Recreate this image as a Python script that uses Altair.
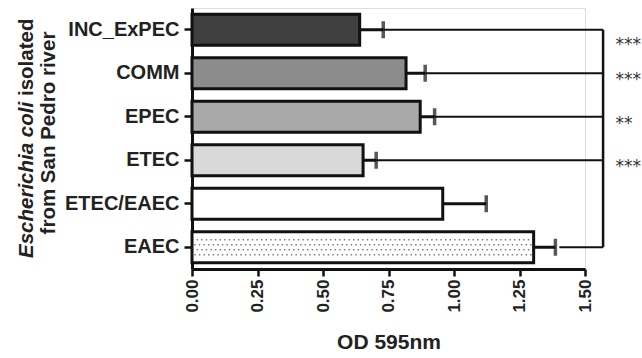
import altair as alt
import pandas as pd

categories = ["INC_ExPEC", "COMM", "EPEC", "ETEC", "ETEC/EAEC", "EAEC"]
means = [0.64, 0.817, 0.871, 0.653, 0.957, 1.304]
upper = [0.73, 0.89, 0.926, 0.703, 1.123, 1.387]
stars = ["***", "***", "**", "***", "", ""]
fills = ["#3f3f3f", "#8c8c8c", "#a9a9a9", "#d9d9d9", "#ffffff", "#ffffff"]
x_ticks = [0.0, 0.25, 0.5, 0.75, 1.0, 1.25, 1.5]
reference_group = "EAEC"
dotted_group = "EAEC"

BRACKET_X = 1.569
STAR_X = 1.616
FONT = "Liberation Sans"

df = pd.DataFrame({"cat": categories, "mean": means, "upper": upper, "star": stars})
df["conn_start"] = [u + (0.015 if c == reference_group else 0.0) for c, u in zip(categories, upper)]
df["bx"] = BRACKET_X
df["sx"] = STAR_X
df["zero"] = 0.0
df["first"] = [c == categories[0] for c in categories]

W, H = 393, 261

xscale = alt.Scale(domain=[0, 1.5], nice=False, zero=True)
yscale = alt.Scale(domain=categories, paddingInner=0.29, paddingOuter=0.145)

x_axis = alt.Axis(
    values=x_ticks, format=".2f", labelAngle=270, labelFont=FONT, labelFontSize=17,
    labelFontWeight="bold", labelColor="#222", tickSize=7, tickWidth=2.5, tickColor="#111",
    domainWidth=3, domainColor="#111", grid=False, title="OD 595nm", titleFont=FONT,
    titleFontSize=21, titleFontWeight="bold", titleColor="#222", titlePadding=19, labelPadding=3,
)
y_axis = alt.Axis(
    labelFont=FONT, labelFontSize=20, labelFontWeight="bold", labelColor="#222",
    tickSize=8, tickWidth=2.5, tickColor="#111", domainWidth=3, domainColor="#111",
    labelPadding=5, title=None, grid=False,
)

base = alt.Chart(df)
Y = alt.Y("cat:N", scale=yscale, sort=categories)

bars_fill = base.mark_bar(strokeWidth=0).encode(
    x=alt.X("mean:Q", scale=xscale, axis=x_axis),
    y=alt.Y("cat:N", scale=yscale, axis=y_axis, sort=categories),
    color=alt.Color("cat:N", scale=alt.Scale(domain=categories, range=fills), legend=None),
)

dot_layers = []
for i, off in enumerate([-7.5, -2.5, 2.5, 7.5]):
    dot_layers.append(
        base.transform_filter(alt.datum.cat == dotted_group).mark_rule(
            yOffset=off, strokeWidth=1.4, color="#777", strokeDash=[1.4, 3.2],
            strokeDashOffset=(0 if i % 2 == 0 else 2.3),
        ).encode(x=alt.X("zero:Q", scale=xscale), x2="mean:Q", y=Y)
    )

err_line = base.mark_rule(strokeWidth=3, color="#111").encode(
    x=alt.X("mean:Q", scale=xscale), x2="upper:Q", y=Y,
)

bars_outline = base.mark_bar(fillOpacity=0, stroke="#111", strokeWidth=3).encode(
    x=alt.X("mean:Q", scale=xscale), y=Y,
)

caps = base.mark_tick(orient="vertical", size=17, thickness=3.5, color="#111").encode(
    x=alt.X("upper:Q", scale=xscale), y=Y,
)

connectors = base.transform_filter(
    (alt.datum.star != "") | (alt.datum.cat == reference_group)
).mark_rule(strokeWidth=2, color="#111").encode(
    x=alt.X("conn_start:Q", scale=xscale), x2="bx:Q", y=Y,
)

bracket = alt.Chart(pd.DataFrame({"y1": [categories[0]], "y2": [reference_group], "bx": [BRACKET_X]})).mark_rule(
    strokeWidth=2.5, color="#111"
).encode(
    x=alt.X("bx:Q", scale=xscale),
    y=alt.Y("y1:N", scale=yscale, sort=categories),
    y2="y2:N",
)

star_style = dict(align="left", baseline="alphabetic", font="DejaVu Sans", fontSize=17, color="#333")
star_text = base.transform_filter((alt.datum.star != "") & (~alt.datum.first)).mark_text(
    dy=12, **star_style
).encode(x=alt.X("sx:Q", scale=xscale), y=Y, text="star:N")
star_text_first = base.transform_filter((alt.datum.star != "") & alt.datum.first).mark_text(
    dy=20, **star_style
).encode(x=alt.X("sx:Q", scale=xscale), y=Y, text="star:N")

title_italic = alt.Chart(pd.DataFrame({"t": ["Escherichia coli"]})).mark_text(
    angle=270, align="left", baseline="alphabetic", font=FONT, fontSize=20.5,
    fontWeight="bold", fontStyle="italic", color="#222",
).encode(x=alt.value(-159), y=alt.value(250), text="t:N")

title_rest = alt.Chart(pd.DataFrame({"t": ["isolated"]})).mark_text(
    angle=270, align="left", baseline="alphabetic", font=FONT, fontSize=20.5,
    fontWeight="bold", color="#222",
).encode(x=alt.value(-159), y=alt.value(250 - 162), text="t:N")

title_line2 = alt.Chart(pd.DataFrame({"t": ["from San Pedro river"]})).mark_text(
    angle=270, align="center", baseline="alphabetic", font=FONT, fontSize=20.5,
    fontWeight="bold", color="#222",
).encode(x=alt.value(-137), y=alt.value(125), text="t:N")

chart = alt.layer(
    bars_fill, *dot_layers, err_line, bars_outline, caps, connectors, bracket,
    star_text, star_text_first, title_italic, title_rest, title_line2,
).properties(
    width=W, height=H,
    padding={"left": 192, "top": 8, "right": 642 - 192 - W, "bottom": 358 - 8 - H},
    autosize="none",
).configure_view(stroke=None).configure(background="white")

chart.save("out.html", embed_options={"renderer": "svg", "actions": False})
